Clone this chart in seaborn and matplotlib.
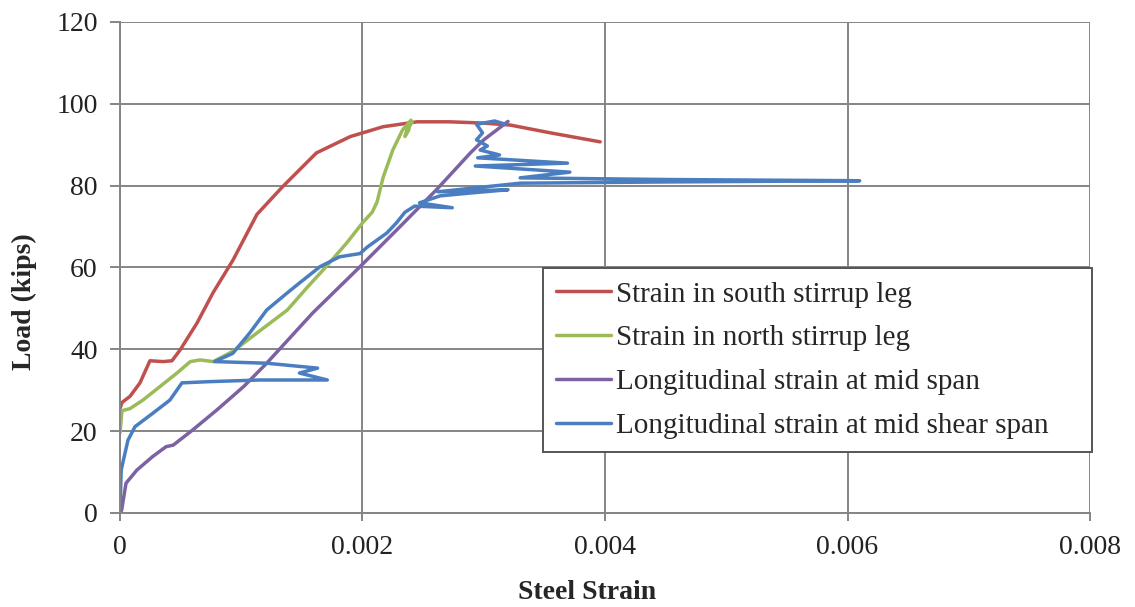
import numpy as np
import pandas as pd
import matplotlib
matplotlib.use("Agg")
import matplotlib.pyplot as plt
import seaborn as sns
from matplotlib.lines import Line2D

# ---- data ----
series_names = [
    "Strain in south stirrup leg",
    "Strain in north stirrup leg",
    "Longitudinal strain at mid span",
    "Longitudinal strain at mid shear span",
]

south_strain = [0.0, 0.0000165, 0.0000825, 0.000165, 0.000247, 0.000355, 0.000429, 0.000495,
                0.000635, 0.000767, 0.000932, 0.00113, 0.00134, 0.00162, 0.0019, 0.00217,
                0.00245, 0.00272, 0.00299, 0.00322, 0.00355, 0.00396]
south_load = [25.5, 27.0, 28.5, 31.8, 37.2, 37.0, 37.2, 39.8,
              46.4, 53.8, 61.8, 73.0, 79.7, 88.0, 92.0, 94.4,
              95.6, 95.6, 95.3, 94.8, 92.9, 90.7]

north_strain = [0.0, 0.0000165, 0.0000825, 0.00019, 0.00033, 0.00047, 0.00058, 0.00066, 0.00077,
                0.00093, 0.00113, 0.00138, 0.00154, 0.00170, 0.00187, 0.00200, 0.00208,
                0.00212, 0.00217, 0.00225, 0.00233, 0.00240, 0.00238, 0.00235, 0.00237, 0.00241]
north_load = [19.5, 25.0, 25.5, 27.6, 30.9, 34.2, 37.0, 37.4, 37.0,
              39.5, 44.0, 49.6, 55.0, 60.2, 66.0, 70.9, 73.5,
              76.0, 82.0, 88.7, 93.6, 96.0, 93.5, 92.0, 94.0, 95.5]

mid_strain = [0.0, 0.0000137, 0.00005, 0.00014, 0.00027, 0.00038, 0.00044, 0.00060, 0.00080,
              0.00102, 0.00121, 0.00146, 0.00159, 0.00198, 0.00231, 0.00261, 0.00289,
              0.00300, 0.00320]
mid_load = [0.0, 0.7, 7.3, 10.5, 13.8, 16.2, 16.6, 20.3, 25.2,
            30.9, 36.6, 44.7, 48.9, 60.2, 70.0, 79.0, 88.0,
            91.2, 95.7]

shear_strain = [0.0, 0.00001, 0.000066, 0.000124, 0.000272, 0.000412, 0.000511, 0.000742,
                0.00115, 0.00171, 0.00148, 0.00163, 0.00121, 0.00078, 0.00093, 0.00107,
                0.00121, 0.00138, 0.00148, 0.00165, 0.00181, 0.00198, 0.00204, 0.00220,
                0.00228, 0.00235, 0.00243, 0.00274, 0.00247, 0.00264, 0.00289, 0.00320,
                0.00262, 0.00330, 0.00450, 0.00610, 0.00450, 0.00330, 0.00371, 0.00293,
                0.00369, 0.00295, 0.00313, 0.00297, 0.00303, 0.00294, 0.00299, 0.00294,
                0.00309, 0.00318]
shear_load = [0.0, 10.5, 17.8, 21.1, 24.4, 27.6, 31.8, 32.1,
              32.5, 32.5, 34.2, 35.4, 36.6, 37.0, 39.0, 44.0,
              49.6, 53.8, 56.2, 60.2, 62.6, 63.4, 65.0, 68.4,
              70.9, 73.5, 75.0, 74.6, 75.8, 77.5, 78.2, 79.0,
              78.5, 80.6, 80.9, 81.2, 81.5, 81.9, 83.3, 84.8,
              85.5, 86.8, 87.5, 88.7, 89.7, 91.2, 92.9, 95.0,
              95.8, 95.0]

x_ticks = [0, 0.002, 0.004, 0.006, 0.008]
x_tick_labels = ["0", "0.002", "0.004", "0.006", "0.008"]
y_ticks = [0, 20, 40, 60, 80, 100, 120]

colors = ["#C0504D", "#9BBB59", "#7D62A3", "#4A7EC0"]

# ---- build long table ----
frames = []
for name, xs, ys in zip(series_names,
                        [south_strain, north_strain, mid_strain, shear_strain],
                        [south_load, north_load, mid_load, shear_load]):
    frames.append(pd.DataFrame({"strain": xs, "load": ys, "series": name}))
df = pd.concat(frames, ignore_index=True)

sns.set_theme(style="white")
plt.rcParams["font.family"] = ["Liberation Serif", "DejaVu Serif"]

fig = plt.figure(figsize=(11.35, 6.07), dpi=100)
ax = fig.add_axes([0.1057, 0.1549, 0.8547, 0.8089])

sns.lineplot(data=df, x="strain", y="load", hue="series", hue_order=series_names,
             palette=colors, sort=False, estimator=None, linewidth=2.5, ax=ax,
             legend=False)

ax.set_xlim(0, 0.008)
ax.set_ylim(0, 120)
ax.set_xticks(x_ticks)
ax.set_xticklabels(x_tick_labels)
ax.set_yticks(y_ticks)

grid_col = "#858585"
ax.grid(True, color=grid_col, linewidth=1.4)
ax.set_axisbelow(True)
for s in ["top", "right"]:
    ax.spines[s].set_visible(False)
for s in ["left", "bottom"]:
    ax.spines[s].set_color(grid_col)
    ax.spines[s].set_linewidth(1.4)

ax.tick_params(axis="both", which="major", direction="out", width=1.4,
               color=grid_col, labelsize=20, labelcolor="#222222",
               left=True, bottom=True)
ax.tick_params(axis="x", length=6, pad=10)
ax.tick_params(axis="y", length=7, pad=9)

ax.set_xlabel("Steel Strain", fontsize=20, fontweight="bold")
ax.set_ylabel("Load (kips)", fontsize=20, fontweight="bold")
ax.xaxis.set_label_coords(0.4814, -0.136)
ax.yaxis.set_label_coords(-0.0856, 0.43)

handles = [Line2D([], [], color=c, linewidth=2.5) for c in colors]
leg = ax.legend(handles, series_names, loc="upper left",
                bbox_to_anchor=(0.436, 0.128, 0.566, 0.371), mode="expand",
                fontsize=21, frameon=True,
                fancybox=False, edgecolor="#555555", framealpha=1,
                handlelength=1.9, handletextpad=0.15, labelspacing=0.6,
                borderpad=0.45, borderaxespad=0)
leg.get_frame().set_linewidth(1.4)

fig.savefig("out.png", dpi=100)
